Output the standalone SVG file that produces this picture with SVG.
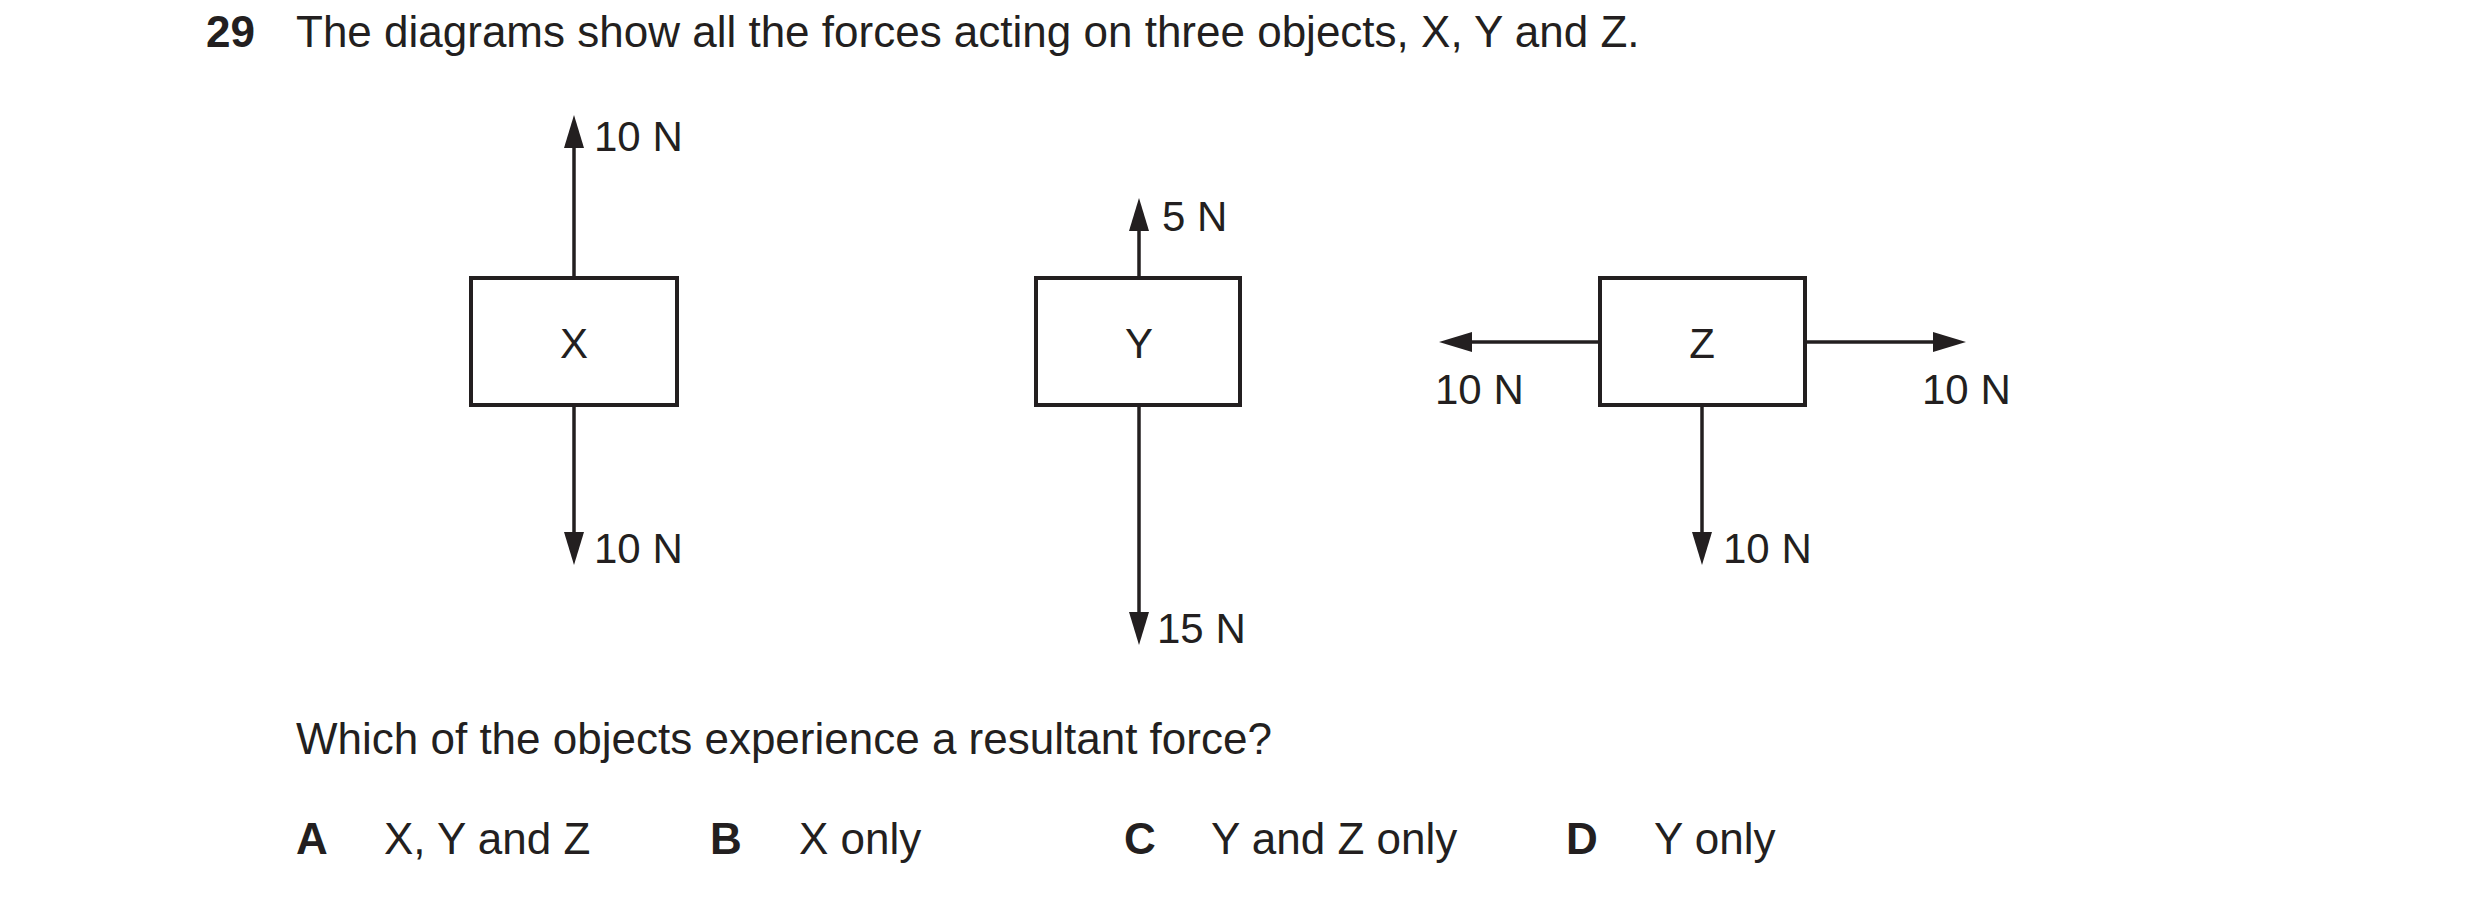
<svg xmlns="http://www.w3.org/2000/svg" width="2480" height="902" viewBox="0 0 2480 902">
<style>
text{font-family:"Liberation Sans",Arial,sans-serif;fill:#231f20}
.t{font-size:44px}
.l{font-size:42px}
.b{font-weight:bold}
.box{fill:none;stroke:#231f20;stroke-width:4}
.ln{stroke:#231f20;stroke-width:3.5;fill:none}
.ah{fill:#231f20}
</style>
<rect width="2480" height="902" fill="#fff"/>
<text class="t b" x="206" y="47">29</text>
<text class="t" x="296" y="47">The diagrams show all the forces acting on three objects, X, Y and Z.</text>
<g id="connectors">
<line class="ln" x1="574" y1="278" x2="574" y2="140"/>
<polygon class="ah" points="574,115 564,148 584,148"/>
<line class="ln" x1="574" y1="405" x2="574" y2="540"/>
<polygon class="ah" points="574,565 564,532 584,532"/>
<line class="ln" x1="1139" y1="278" x2="1139" y2="222"/>
<polygon class="ah" points="1139,198 1129,231 1149,231"/>
<line class="ln" x1="1139" y1="405" x2="1139" y2="620"/>
<polygon class="ah" points="1139,645 1129,612 1149,612"/>
<line class="ln" x1="1600" y1="342" x2="1465" y2="342"/>
<polygon class="ah" points="1439,342 1472,332 1472,352"/>
<line class="ln" x1="1805" y1="342" x2="1940" y2="342"/>
<polygon class="ah" points="1966,342 1933,332 1933,352"/>
<line class="ln" x1="1702" y1="405" x2="1702" y2="540"/>
<polygon class="ah" points="1702,565 1692,532 1712,532"/>
</g>
<g id="X"><rect class="box" x="471" y="278" width="206" height="127"/><text class="l" x="574" y="358" text-anchor="middle">X</text></g>
<g id="Y"><rect class="box" x="1036" y="278" width="204" height="127"/><text class="l" x="1139" y="358" text-anchor="middle">Y</text></g>
<g id="Z"><rect class="box" x="1600" y="278" width="205" height="127"/><text class="l" x="1702" y="358" text-anchor="middle">Z</text></g>
<g id="labels">
<text class="l" x="594" y="151">10 N</text>
<text class="l" x="594" y="563">10 N</text>
<text class="l" x="1162" y="231">5 N</text>
<text class="l" x="1157" y="643">15 N</text>
<text class="l" x="1435" y="404">10 N</text>
<text class="l" x="1922" y="404">10 N</text>
<text class="l" x="1723" y="563">10 N</text>
</g>
<text class="t" x="296" y="754">Which of the objects experience a resultant force?</text>
<text class="t b" x="296" y="854">A</text><text class="t" x="384" y="854">X, Y and Z</text>
<text class="t b" x="710" y="854">B</text><text class="t" x="799" y="854">X only</text>
<text class="t b" x="1124" y="854">C</text><text class="t" x="1211" y="854">Y and Z only</text>
<text class="t b" x="1566" y="854">D</text><text class="t" x="1654" y="854">Y only</text>
</svg>
